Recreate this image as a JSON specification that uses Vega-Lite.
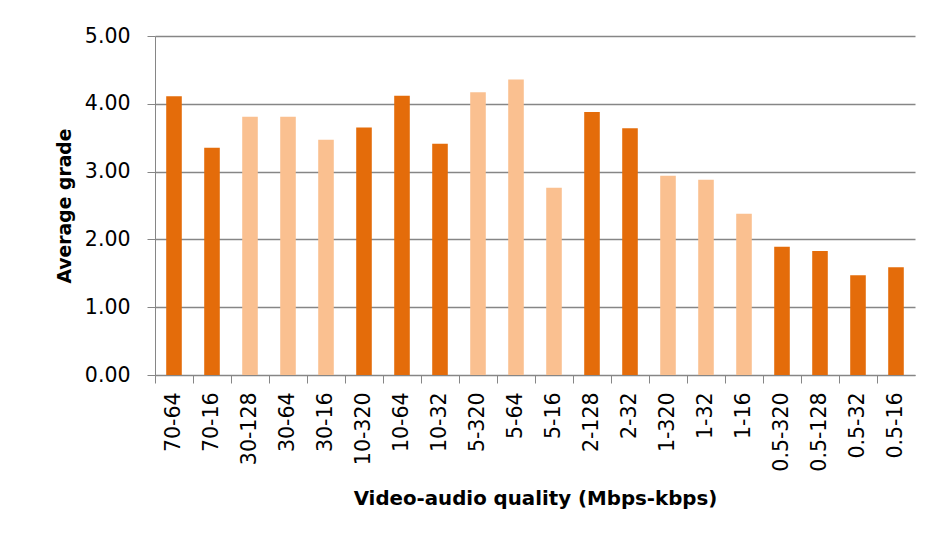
{
  "$schema": "https://vega.github.io/schema/vega-lite/v6.json",
  "width": 760,
  "height": 339,
  "autosize": {"type": "none"},
  "padding": {"left": 155, "top": 36, "right": 20, "bottom": 169},
  "background": "white",
  "data": {
    "values": [
      {"quality": "70-64", "video": "70", "grade": 4.11},
      {"quality": "70-16", "video": "70", "grade": 3.35},
      {"quality": "30-128", "video": "30", "grade": 3.81},
      {"quality": "30-64", "video": "30", "grade": 3.81},
      {"quality": "30-16", "video": "30", "grade": 3.47},
      {"quality": "10-320", "video": "10", "grade": 3.65},
      {"quality": "10-64", "video": "10", "grade": 4.12},
      {"quality": "10-32", "video": "10", "grade": 3.41},
      {"quality": "5-320", "video": "5", "grade": 4.17},
      {"quality": "5-64", "video": "5", "grade": 4.36},
      {"quality": "5-16", "video": "5", "grade": 2.76},
      {"quality": "2-128", "video": "2", "grade": 3.88},
      {"quality": "2-32", "video": "2", "grade": 3.64},
      {"quality": "1-320", "video": "1", "grade": 2.94},
      {"quality": "1-32", "video": "1", "grade": 2.88},
      {"quality": "1-16", "video": "1", "grade": 2.38},
      {"quality": "0.5-320", "video": "0.5", "grade": 1.89},
      {"quality": "0.5-128", "video": "0.5", "grade": 1.83},
      {"quality": "0.5-32", "video": "0.5", "grade": 1.47},
      {"quality": "0.5-16", "video": "0.5", "grade": 1.59}
    ]
  },
  "mark": {"type": "bar", "width": {"band": 0.41}},
  "encoding": {
    "x": {
      "field": "quality",
      "type": "nominal",
      "sort": null,
      "scale": {"paddingInner": 0, "paddingOuter": 0},
      "axis": {
        "title": "Video-audio quality (Mbps-kbps)",
        "titleFont": "DejaVu Sans",
        "titleFontSize": 19.8,
        "titleFontWeight": "bold",
        "titleColor": "black",
        "titlePadding": 17,
        "labelAngle": -90,
        "labelFont": "DejaVu Sans",
        "labelFontSize": 20.5,
        "labelColor": "black",
        "labelPadding": 9,
        "bandPosition": 0,
        "tickSize": 8,
        "tickColor": "#868686",
        "domainColor": "#868686",
        "grid": false
      }
    },
    "y": {
      "field": "grade",
      "type": "quantitative",
      "scale": {"domain": [0, 5]},
      "axis": {
        "title": "Average grade",
        "titleFont": "DejaVu Sans",
        "titleFontSize": 18.8,
        "titleFontWeight": "bold",
        "titleColor": "black",
        "titlePadding": 10,
        "values": [0, 1, 2, 3, 4, 5],
        "format": ".2f",
        "labelFont": "DejaVu Sans",
        "labelFontSize": 20.5,
        "labelColor": "black",
        "labelPadding": 17,
        "tickSize": 8,
        "tickColor": "#868686",
        "domainColor": "#868686",
        "gridColor": "#868686",
        "gridWidth": 1.3
      }
    },
    "color": {
      "field": "video",
      "type": "nominal",
      "scale": {
        "domain": ["70", "30", "10", "5", "2", "1", "0.5"],
        "range": ["#E46C0A", "#FAC090", "#E46C0A", "#FAC090", "#E46C0A", "#FAC090", "#E46C0A"]
      },
      "legend": null
    }
  },
  "config": {"view": {"stroke": null}}
}
